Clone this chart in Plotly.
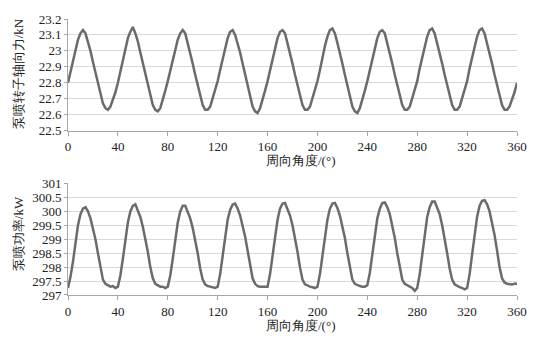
import plotly.graph_objects as go
from plotly.subplots import make_subplots

angle = list(range(0, 361, 2))

axial_force = [
    22.80, 22.87, 22.94, 23.01, 23.07, 23.11, 23.13, 23.11, 23.06, 23.00, 22.93, 22.86, 22.79, 22.72, 22.67, 22.64, 22.63, 22.65, 22.69, 22.74,
    22.80, 22.87, 22.95, 23.02, 23.08, 23.12, 23.15, 23.11, 23.06, 22.99, 22.92, 22.85, 22.78, 22.71, 22.66, 22.63, 22.62, 22.64, 22.69, 22.75,
    22.81, 22.88, 22.95, 23.01, 23.07, 23.11, 23.13, 23.11, 23.05, 22.99, 22.92, 22.85, 22.78, 22.71, 22.66, 22.63, 22.63, 22.65, 22.70, 22.75,
    22.81, 22.88, 22.95, 23.02, 23.08, 23.12, 23.13, 23.10, 23.05, 22.99, 22.92, 22.85, 22.78, 22.71, 22.65, 22.62, 22.61, 22.64, 22.69, 22.75,
    22.81, 22.88, 22.95, 23.02, 23.08, 23.12, 23.13, 23.11, 23.05, 22.99, 22.92, 22.85, 22.78, 22.71, 22.66, 22.63, 22.63, 22.65, 22.70, 22.75,
    22.81, 22.88, 22.96, 23.03, 23.09, 23.13, 23.14, 23.11, 23.05, 22.99, 22.92, 22.85, 22.78, 22.70, 22.65, 22.62, 22.61, 22.64, 22.69, 22.75,
    22.81, 22.88, 22.95, 23.02, 23.08, 23.12, 23.13, 23.11, 23.05, 22.99, 22.92, 22.85, 22.78, 22.71, 22.66, 22.63, 22.63, 22.65, 22.70, 22.75,
    22.81, 22.89, 22.96, 23.03, 23.09, 23.13, 23.14, 23.11, 23.05, 22.99, 22.92, 22.85, 22.78, 22.71, 22.66, 22.63, 22.63, 22.65, 22.70, 22.75,
    22.81, 22.89, 22.96, 23.03, 23.09, 23.13, 23.14, 23.11, 23.05, 22.99, 22.92, 22.85, 22.78, 22.71, 22.66, 22.63, 22.63, 22.65, 22.69, 22.74,
    22.80,
]

power = [
    297.25, 297.65, 298.2, 298.9, 299.5, 299.9, 300.1, 300.15, 300.0, 299.75, 299.4, 299.0, 298.5, 297.95, 297.55, 297.4, 297.35, 297.3, 297.32, 297.25,
    297.3, 297.7, 298.3, 299.0, 299.6, 300.0, 300.2, 300.25, 300.05, 299.8, 299.45, 299.05, 298.55, 298.0, 297.6, 297.4, 297.35, 297.3, 297.3, 297.25,
    297.3, 297.7, 298.3, 299.0, 299.6, 300.0, 300.2, 300.2, 300.0, 299.75, 299.4, 299.0, 298.5, 297.95, 297.55, 297.38, 297.32, 297.3, 297.28, 297.25,
    297.3, 297.75, 298.4, 299.1, 299.7, 300.05, 300.25, 300.28, 300.1, 299.85, 299.5, 299.1, 298.6, 298.05, 297.6, 297.4, 297.32, 297.3, 297.3, 297.3,
    297.3, 297.75, 298.4, 299.1, 299.7, 300.1, 300.28, 300.3, 300.1, 299.85, 299.5, 299.05, 298.55, 298.0, 297.55, 297.38, 297.33, 297.3, 297.28, 297.25,
    297.3, 297.75, 298.4, 299.1, 299.7, 300.1, 300.28, 300.3, 300.12, 299.85, 299.5, 299.05, 298.5, 297.95, 297.55, 297.4, 297.35, 297.32, 297.3, 297.3,
    297.35, 297.8, 298.45, 299.15, 299.75, 300.1, 300.3, 300.32, 300.15, 299.9, 299.5, 299.05, 298.5, 297.95, 297.55, 297.4, 297.35, 297.3, 297.25, 297.15,
    297.25, 297.75, 298.45, 299.2, 299.8, 300.15, 300.35, 300.35, 300.15, 299.9, 299.5, 299.05, 298.5, 297.95, 297.55, 297.38, 297.32, 297.28, 297.25, 297.2,
    297.25, 297.75, 298.45, 299.2, 299.8, 300.2, 300.38, 300.4, 300.25, 300.0, 299.6, 299.15, 298.6, 298.0, 297.6, 297.45, 297.4, 297.38, 297.38, 297.4,
    297.4,
]

x_ticks = [0, 40, 80, 120, 160, 200, 240, 280, 320, 360]
x_title = "周向角度/(°)"
y1_title = "泵喷转子轴向力/kN"
y2_title = "泵喷功率/kW"

FONT = "Times New Roman"
LINE = "#6b6b6b"
AXIS = "#a6a6a6"
GRID = "#d9d9d9"

fig = make_subplots(rows=2, cols=1, vertical_spacing=0.0)
fig.add_trace(go.Scatter(x=angle, y=axial_force, mode="lines",
                         line=dict(color=LINE, width=2.5), showlegend=False), row=1, col=1)
fig.add_trace(go.Scatter(x=angle, y=power, mode="lines",
                         line=dict(color=LINE, width=2.5), showlegend=False), row=2, col=1)

xcommon = dict(range=[0, 360], tickvals=x_ticks, showgrid=False, zeroline=False,
               showline=True, linecolor=AXIS, linewidth=1, ticks="outside",
               ticklen=4, tickcolor=AXIS, tickfont=dict(family=FONT, size=13, color="#222"))
ycommon = dict(showgrid=True, gridcolor=GRID, gridwidth=1, zeroline=False,
               showline=True, linecolor=AXIS, linewidth=1, ticks="outside",
               ticklen=3, tickcolor=AXIS, tickfont=dict(family=FONT, size=13, color="#222"))

fig.update_layout(
    width=549, height=341,
    margin=dict(l=68, r=32, t=15, b=46),
    paper_bgcolor="white", plot_bgcolor="white",
    xaxis=dict(domain=[0, 1], **xcommon),
    xaxis2=dict(domain=[0, 1], **xcommon),
    yaxis=dict(domain=[0.596, 1.0], range=[22.5, 23.2], dtick=0.1, tick0=22.5, **ycommon),
    yaxis2=dict(domain=[0.0, 0.404], range=[297, 301], dtick=0.5, tick0=297, **ycommon),
    font=dict(family=FONT, color="#222"),
)

ann_font = dict(family=FONT, size=13, color="#222")
fig.add_annotation(text=x_title, xref="paper", yref="paper", x=0.518, y=0.489,
                   showarrow=False, font=ann_font, xanchor="center", yanchor="middle")
fig.add_annotation(text=x_title, xref="paper", yref="paper", x=0.518, y=-0.11,
                   showarrow=False, font=ann_font, xanchor="center", yanchor="middle")
fig.add_annotation(text=y1_title, xref="paper", yref="paper", x=-0.111, y=0.8,
                   showarrow=False, font=ann_font, textangle=-90, xanchor="center", yanchor="middle")
fig.add_annotation(text=y2_title, xref="paper", yref="paper", x=-0.111, y=0.221,
                   showarrow=False, font=ann_font, textangle=-90, xanchor="center", yanchor="middle")

fig.write_html("out.html")
